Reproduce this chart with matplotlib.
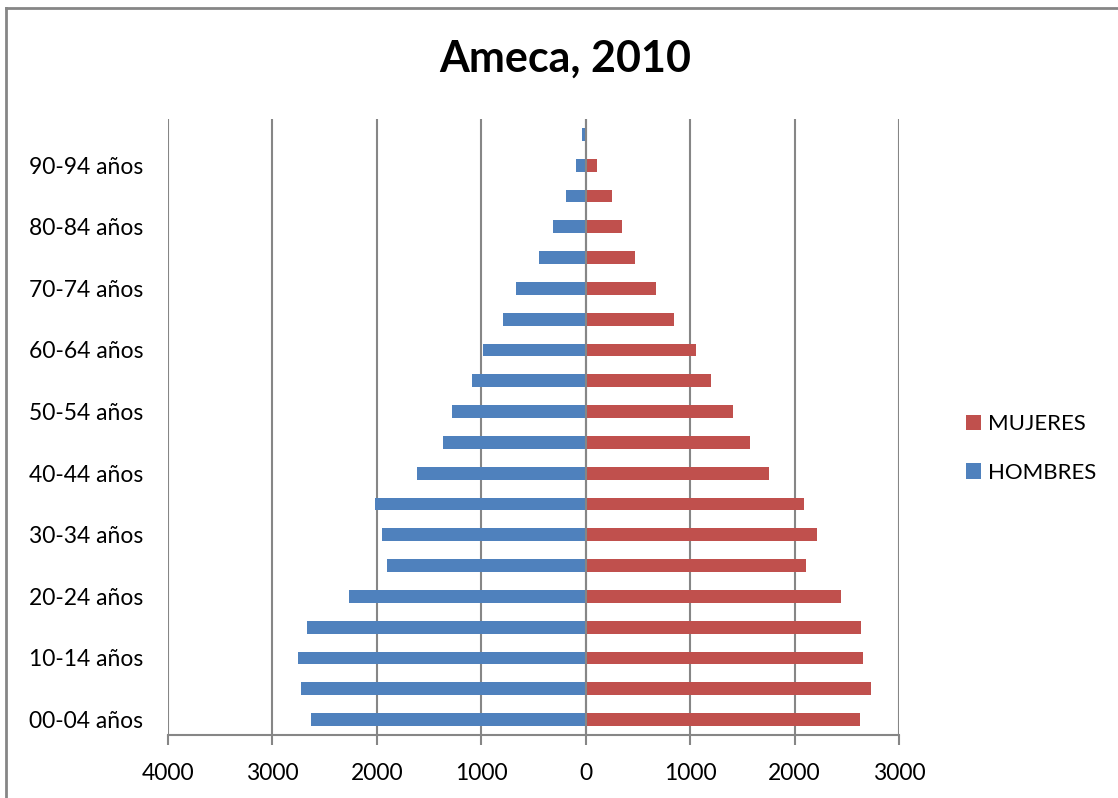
import numpy as np
import matplotlib
matplotlib.use("Agg")
import matplotlib.pyplot as plt
from matplotlib.lines import Line2D
from matplotlib.ticker import FuncFormatter

grupos = ["00-04 años", "05-09 años", "10-14 años", "15-19 años", "20-24 años",
          "25-29 años", "30-34 años", "35-39 años", "40-44 años", "45-49 años",
          "50-54 años", "55-59 años", "60-64 años", "65-69 años", "70-74 años",
          "75-79 años", "80-84 años", "85-89 años", "90-94 años", "95-99 años"]
hombres = [2633, 2731, 2754, 2671, 2269, 1901, 1950, 2022, 1619, 1370,
           1284, 1092, 987, 795, 671, 444, 313, 185, 89, 35]
mujeres = [2629, 2728, 2659, 2633, 2443, 2105, 2219, 2094, 1753, 1571,
           1408, 1197, 1054, 843, 671, 476, 348, 249, 105, 0]

azul = "#4F81BD"
rojo = "#C0504D"
gris = "#868686"
fuente = "Lato"

fig = plt.figure(figsize=(11.18, 7.98), dpi=100)
ax = fig.add_axes([168 / 1118, 63 / 798, 731 / 1118, 616 / 798])

y = np.arange(len(grupos))
ax.barh(y, mujeres, height=0.42, color=rojo, label="MUJERES", zorder=3)
ax.barh(y, [-v for v in hombres], height=0.42, color=azul, label="HOMBRES", zorder=3)

ax.set_xlim(-4000, 3000)
ax.set_ylim(-0.5, len(grupos) - 0.5)
ax.set_xticks(range(-4000, 3001, 1000))
ax.xaxis.set_major_formatter(FuncFormatter(lambda v, p: f"{abs(int(v))}"))
ax.set_yticks(y[::2])
ax.set_yticklabels(grupos[::2])

for v in range(-4000, 3001, 1000):
    ax.axvline(v, color=gris, lw=1.5, zorder=1)
ax.axvline(0, color=gris, lw=1.5, zorder=4)

for s in ["top", "left", "right"]:
    ax.spines[s].set_visible(False)
ax.spines["bottom"].set_color(gris)
ax.spines["bottom"].set_linewidth(1.5)
ax.tick_params(axis="x", length=7, width=1.5, color=gris, pad=13, labelsize=16.5)
ax.tick_params(axis="y", length=0, pad=18, labelsize=16.5)
for t in ax.get_xticklabels() + ax.get_yticklabels():
    t.set_fontfamily(fuente)

fig.text(0.506, 0.926, "Ameca, 2010", ha="center", va="center",
         fontsize=31, fontweight="bold", fontfamily=fuente)

ax.legend(loc="center left", bbox_to_anchor=(1.064, 0.465), frameon=False,
          prop={"family": fuente, "size": 16}, handlelength=0.7, handleheight=0.7,
          handletextpad=0.3, labelspacing=1.3)

# borde del area del grafico
fig.add_artist(Line2D([6 / 1118, 6 / 1118], [0, 1 - 8 / 798], transform=fig.transFigure,
                      color=gris, lw=2))
fig.add_artist(Line2D([6 / 1118, 1], [1 - 8 / 798, 1 - 8 / 798], transform=fig.transFigure,
                      color=gris, lw=2))

fig.savefig("out.png", dpi=100)
